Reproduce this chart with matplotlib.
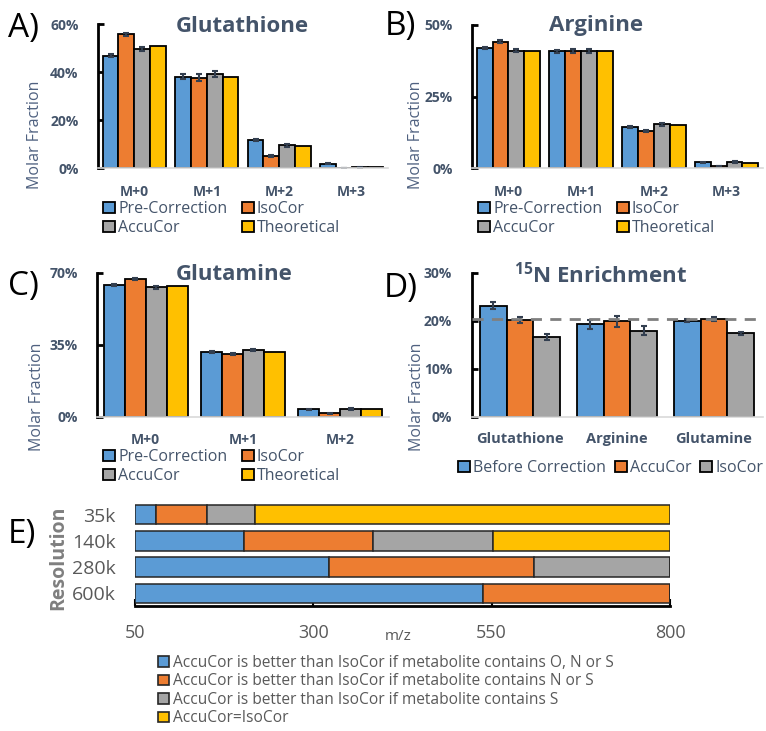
import matplotlib
matplotlib.use('Agg')
import matplotlib.pyplot as plt
import numpy as np
from matplotlib.transforms import blended_transform_factory
from matplotlib.patches import Patch

plt.rcParams['font.family'] = ['Open Sans', 'DejaVu Sans']
plt.rcParams['mathtext.fontset'] = 'custom'
plt.rcParams['mathtext.rm'] = 'Open Sans'
plt.rcParams['mathtext.bf'] = 'Open Sans:bold'
plt.rcParams['mathtext.default'] = 'bf'

# ---------------- data ----------------
iso_labels_4 = ['M+0', 'M+1', 'M+2', 'M+3']
iso_labels_3 = ['M+0', 'M+1', 'M+2']
series_abc = ['Pre-Correction', 'IsoCor', 'AccuCor', 'Theoretical']

glut_pre = [46.7, 38.0, 11.7, 1.7]
glut_iso = [55.7, 37.6, 5.0, 0.1]
glut_acc = [49.6, 39.2, 9.4, 0.3]
glut_theo = [51.0, 38.0, 9.2, 0.5]
glut_pre_err = [0.6, 1.0, 0.4, 0.2]
glut_iso_err = [0.7, 1.4, 0.5, 0.1]
glut_acc_err = [0.8, 1.1, 0.5, 0.1]
glut_theo_err = [0, 0, 0, 0]

arg_pre = [42.0, 40.8, 14.4, 2.0]
arg_iso = [44.2, 40.9, 13.0, 0.7]
arg_acc = [41.0, 40.9, 15.3, 2.1]
arg_theo = [41.0, 40.8, 14.9, 1.9]
arg_pre_err = [0.4, 0.5, 0.4, 0.2]
arg_iso_err = [0.5, 0.6, 0.4, 0.1]
arg_acc_err = [0.5, 0.6, 0.5, 0.2]
arg_theo_err = [0, 0, 0, 0]

gln_pre = [64.2, 31.6, 3.7]
gln_iso = [67.1, 30.6, 1.8]
gln_acc = [63.0, 32.6, 3.9]
gln_theo = [63.8, 31.6, 3.7]
gln_pre_err = [0.5, 0.4, 0.2]
gln_iso_err = [0.6, 0.4, 0.2]
gln_acc_err = [0.6, 0.4, 0.3]
gln_theo_err = [0, 0, 0]

enr_metab = ['Glutathione', 'Arginine', 'Glutamine']
enr_series = ['Before Correction', 'AccuCor', 'IsoCor']
enr_before = [23.2, 19.3, 20.1]
enr_accucor = [20.2, 19.9, 20.5]
enr_isocor = [16.6, 18.0, 17.4]
enr_before_err = [0.7, 1.0, 0.4]
enr_accucor_err = [0.7, 1.1, 0.4]
enr_isocor_err = [0.6, 1.0, 0.3]
enr_theoretical = 20.5

res_labels = ['35k', '140k', '280k', '600k']
mz_min, mz_max = 50, 800
mz_ticks = [50, 300, 550, 800]
ons_end = [80, 203, 322, 538]
ns_end = [151, 384, 610, 800]
s_end = [218, 552, 800, 800]
equal_end = [800, 800, 800, 800]
e_categories = ['AccuCor is better than IsoCor if metabolite contains O, N or S',
                'AccuCor is better than IsoCor if metabolite contains N or S',
                'AccuCor is better than IsoCor if metabolite contains S',
                'AccuCor=IsoCor']

# ---------------- style ----------------
BLUE = '#5B9BD5'; ORANGE = '#ED7D31'; GRAY = '#A5A5A5'; YELLOW = '#FFC000'
SLATE = '#44546A'
TXTGRAY = '#595959'

W, H = 766, 731
fig = plt.figure(figsize=(W / 100, H / 100), dpi=100)


def rect(x0, x1, ytop, ybot):
    return [x0 / W, 1 - ybot / H, (x1 - x0) / W, (ybot - ytop) / H]


def fx(x):
    return x / W


def fy(y):
    return 1 - y / H


def grouped(ax, vals_list, err_list, colors, group_w):
    n = len(vals_list)
    x = np.arange(len(vals_list[0]))
    w = group_w / n
    handles = []
    for i, (v, e, c) in enumerate(zip(vals_list, err_list, colors)):
        off = (i - (n - 1) / 2) * w
        has_err = any(val > 0 for val in e)
        b = ax.bar(x + off, v, w, color=c, edgecolor='black', linewidth=1.3,
                   yerr=e if has_err else None,
                   error_kw=dict(ecolor='#333F50', elinewidth=1.5, capsize=2.5, capthick=1.5),
                   zorder=2)
        handles.append(b)
    ax.set_xlim(-0.5, len(x) - 0.5)
    return handles


def style(ax, ymax, yticks, ytop, ybot, cats, label_y, cat_size=10):
    ax.set_ylim(0, ymax)
    ax.set_yticks(yticks)
    ax.set_yticklabels(['%d%%' % t for t in yticks], fontweight='bold')
    ax.set_xticks([])
    for s in ['top', 'right']:
        ax.spines[s].set_visible(False)
    ax.spines['bottom'].set_color('#D9D9D9')
    ax.spines['bottom'].set_linewidth(1.2)
    ax.spines['left'].set_color('black')
    ax.spines['left'].set_linewidth(2)
    ax.tick_params(axis='y', direction='in', length=4, width=2, color='black',
                   labelcolor=SLATE, labelsize=10, pad=14)
    tr = blended_transform_factory(ax.transData, ax.transAxes)
    fr = (ybot - label_y) / (ybot - ytop)
    for i, c in enumerate(cats):
        ax.text(i, fr, c, transform=tr, ha='center', va='center', fontsize=cat_size,
                fontweight='bold', color=SLATE)


def panel_legend(handles, labels, x, y, ncol, colsp):
    fig.legend(handles, labels, loc='upper left', bbox_to_anchor=(fx(x), fy(y)), ncol=ncol,
               frameon=False, fontsize=11.5, labelcolor=SLATE, handlelength=0.75,
               handleheight=0.75, handletextpad=0.2, labelspacing=0.2, columnspacing=colsp,
               borderpad=0, borderaxespad=0)


def rowmajor(items):
    # order entries so a 2-column legend reads row by row
    return [items[0], items[2], items[1], items[3]]


colors4 = [BLUE, ORANGE, GRAY, YELLOW]

# ---- A ----
axA = fig.add_axes(rect(98, 388, 24, 168))
hA = grouped(axA, [glut_pre, glut_iso, glut_acc, glut_theo],
             [glut_pre_err, glut_iso_err, glut_acc_err, glut_theo_err], colors4, 0.87)
style(axA, 60, [0, 20, 40, 60], 24, 168, iso_labels_4, 192)
panel_legend(rowmajor(hA), rowmajor(series_abc), 103, 201, 2, 0.9)

# ---- B ----
axB = fig.add_axes(rect(472, 763, 25, 168))
hB = grouped(axB, [arg_pre, arg_iso, arg_acc, arg_theo],
             [arg_pre_err, arg_iso_err, arg_acc_err, arg_theo_err], colors4, 0.87)
style(axB, 50, [0, 25, 50], 25, 168, iso_labels_4, 192)
panel_legend(rowmajor(hB), rowmajor(series_abc), 478, 201, 2, 0.9)

# ---- C ----
axC = fig.add_axes(rect(97, 389, 273, 417))
hC = grouped(axC, [gln_pre, gln_iso, gln_acc, gln_theo],
             [gln_pre_err, gln_iso_err, gln_acc_err, gln_theo_err], colors4, 0.86)
style(axC, 70, [0, 35, 70], 273, 417, iso_labels_3, 440)
panel_legend(rowmajor(hC), rowmajor(series_abc), 103, 449, 2, 0.9)

# ---- D ----
axD = fig.add_axes(rect(471.5, 762.5, 273, 417))
hD = grouped(axD, [enr_before, enr_accucor, enr_isocor],
             [enr_before_err, enr_accucor_err, enr_isocor_err], [BLUE, ORANGE, GRAY], 0.835)
style(axD, 30, [0, 10, 20, 30], 273, 417, enr_metab, 439, cat_size=10.5)
axD.axhline(enr_theoretical, color='#7F7F7F', ls=(0, (4, 3)), lw=2, zorder=3)
panel_legend(hD, enr_series, 458, 460, 3, 0.55)

# ---- E ----
axE = fig.add_axes(rect(135, 670, 502, 606))
ypos = np.arange(len(res_labels))
left = np.full(len(res_labels), mz_min, dtype=float)
e_handles = []
for ends, c in zip([ons_end, ns_end, s_end, equal_end], colors4):
    ends = np.array(ends, dtype=float)
    axE.barh(ypos, ends - left, left=left, height=0.74, color=c, edgecolor='#262626',
             linewidth=1.1, zorder=2)
    e_handles.append(Patch(facecolor=c, edgecolor='#262626', linewidth=1.2))
    left = ends
axE.set_xlim(mz_min, mz_max)
axE.set_ylim(3.49, -0.49)
axE.set_yticks(ypos)
axE.set_yticklabels(res_labels)
axE.set_xticks(mz_ticks)
axE.set_xticklabels([str(t) for t in mz_ticks])
for s in ['top', 'right', 'left']:
    axE.spines[s].set_visible(False)
axE.spines['bottom'].set_linewidth(2)
axE.spines['bottom'].set_color('black')
axE.tick_params(axis='y', length=0, labelsize=14, labelcolor=TXTGRAY, pad=14)
axE.tick_params(axis='x', direction='in', length=5, width=1.5, color='black',
                labelsize=13, labelcolor=TXTGRAY, pad=13)

fig.legend(e_handles, e_categories, loc='upper left', bbox_to_anchor=(fx(158), fy(655)),
           ncol=1, frameon=False, fontsize=11.2, labelcolor=TXTGRAY, handlelength=0.7,
           handleheight=0.7, handletextpad=0.25, labelspacing=0.16, borderpad=0,
           borderaxespad=0)

# ---- texts ----
for txt, x, y in [('Glutathione', 242, 27), ('Arginine', 596, 26), ('Glutamine', 234, 275),
                  ('$^{15}$N Enrichment', 601, 275)]:
    fig.text(fx(x), fy(y), txt, ha='center', va='center', fontsize=16, fontweight='bold',
             color=SLATE)

for txt, x, y in [('A)', 8, 29), ('B)', 385, 27), ('C)', 8, 287), ('D)', 384, 289),
                  ('E)', 8, 534)]:
    fig.text(fx(x), fy(y), txt, ha='left', va='center', fontsize=24, color='black')

for x, y in [(35, 135), (416, 135), (37, 397), (417, 397)]:
    fig.text(fx(x), fy(y), 'Molar Fraction', rotation=90, ha='center', va='center',
             fontsize=11.5, color='#4F6180')

fig.text(fx(58), fy(558), 'Resolution', rotation=90, ha='center', va='center', fontsize=14,
         fontweight='bold', color='#7F7F7F')
fig.text(fx(398), fy(636), 'm/z', ha='center', va='center', fontsize=11, color=TXTGRAY)

fig.savefig('out.png', dpi=100)
